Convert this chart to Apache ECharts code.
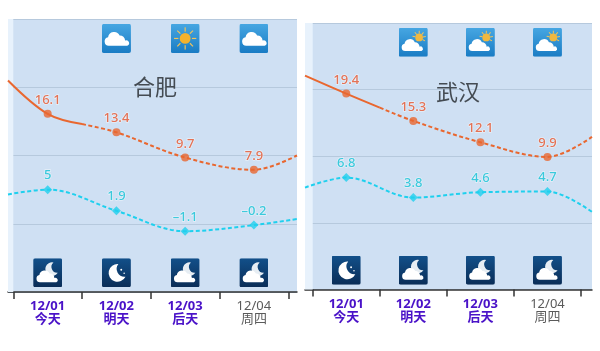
<!DOCTYPE html>
<html><head><meta charset="utf-8">
<style>html,body{margin:0;padding:0;background:#fff}#c{width:600px;height:351px}</style>
<script src="https://cdn.jsdelivr.net/npm/echarts@6/dist/echarts.min.js"></script>
</head><body><div id="c"></div>
<script>
const dates = ['12/01','12/02','12/03','12/04'];
const days = ['今天','明天','后天','周四'];
const dayPos = [0.5,1.5,2.5,3.5];
const boundaryPos = [0,1,2,3,4];

const hefeiHigh = [16.1,13.4,9.7,7.9];
const hefeiLow = [5,1.9,-1.1,-0.2];
const hefeiHighEnds = [21.0,10.0];
const hefeiLowEnds = [4.3,0.7];
const hefeiHighSolidEnd = 14.6;
const hefeiDayIcons = [null,'cloud','sun','cloud'];
const hefeiNightIcons = ['nightcloud','moon','nightcloud','nightcloud'];

const wuhanHigh = [19.4,15.3,12.1,9.9];
const wuhanLow = [6.8,3.8,4.6,4.7];
const wuhanHighEnds = [22.1,12.9];
const wuhanLowEnds = [5.3,1.65];
const wuhanHighSolidEnd = 17.3;
const wuhanDayIcons = [null,'partly','partly','partly'];
const wuhanNightIcons = ['moon','nightcloud','nightcloud','nightcloud'];

const CLOUD = 'M8 22a4 4 0 0 1-.6-7.9 5.6 5.6 0 0 1 10.6-1.6 4.8 4.8 0 0 1 5 4.6A2.6 2.6 0 0 1 25 22z';
function svg(kind){
  const night = kind==='moon'||kind==='nightcloud';
  const grad = night?['#12508a','#0a2d57']:['#46a6e2','#1a7cc4'];
  let b='';
  if(kind==='cloud') b=`<g transform="translate(-2 -2.2) scale(1.13)"><path fill="#fff" d="${CLOUD}"/></g>`;
  if(kind==='sun'){
    let rays='';
    for(let i=0;i<8;i++){rays+=`<rect x="14.4" y="3.5" width="1.2" height="4.5" fill="#f2c35a" transform="rotate(${i*45} 15 15)"/>`;}
    b=rays+'<circle cx="15" cy="15" r="5.6" fill="#f5b22c"/>';
  }
  if(kind==='partly'){
    let rays='';
    for(let i=-2;i<4;i++){rays+=`<rect x="20.6" y="3" width="1" height="3" fill="#f2c35a" transform="rotate(${i*40} 21 10)"/>`;}
    b=rays+'<circle cx="21" cy="10" r="4" fill="#f0b840"/><path fill="#fff" d="M6.5 24a3.8 3.8 0 0 1-.6-7.5 5.6 5.6 0 0 1 10.6-1.6 4.8 4.8 0 0 1 5 4.6A2.4 2.4 0 0 1 23.5 24z"/>';
  }
  if(kind==='moon'){
    b='<path fill="#fff" d="M17 6a9.2 9.2 0 1 0 7.4 13.2A8.2 8.2 0 0 1 17 6z"/><circle cx="20" cy="12" r="1" fill="#fff"/><circle cx="23" cy="15.5" r="0.8" fill="#fff"/>';
  }
  if(kind==='nightcloud'){
    b='<path fill="#e6edf3" d="M21 4.5a7 7 0 1 0 4.5 10.5A6 6 0 0 1 21 4.5z"/><path fill="#fff" d="M7 25a3.8 3.8 0 0 1-.6-7.5 5.6 5.6 0 0 1 10.6-1.6 4.8 4.8 0 0 1 5 4.6A2.4 2.4 0 0 1 24 25z"/>';
  }
  const s=`<svg xmlns="http://www.w3.org/2000/svg" width="58" height="58" viewBox="0 0 30 30"><defs><linearGradient id="g" x1="0" y1="0" x2="0" y2="1"><stop offset="0" stop-color="${grad[0]}"/><stop offset="1" stop-color="${grad[1]}"/></linearGradient></defs><rect width="30" height="30" rx="2" fill="url(#g)"/>${b}</svg>`;
  return 'image://data:image/svg+xml;charset=utf-8,'+encodeURIComponent(s);
}

const font = '"Noto Sans","Noto Sans CJK SC",sans-serif';
const grids=[], xAxes=[], yAxes=[], series=[], titles=[];

function panel(i,p){
  grids.push({left:p.left,width:p.width,top:p.top,height:p.height,show:true,backgroundColor:'#cfe0f3',borderWidth:0});
  xAxes.push({type:'value',gridIndex:i,min:p.xMin,max:p.xMax,
    axisLine:{onZero:false,lineStyle:{color:'#333',width:1.5}},
    axisTick:{length:7,customValues:boundaryPos,lineStyle:{color:'#333',width:1.5}},
    splitLine:{show:false},
    axisLabel:{customValues:dayPos,margin:8,interval:0,
      formatter:v=>{const k=dayPos.indexOf(v);const s=k<3?'a':'b';return `{${s}|${dates[k]}}\n{${s}|${days[k]}}`;},
      rich:{
        a:{fontFamily:font,fontSize:13,fontWeight:'bold',color:'#4a12c8',lineHeight:13},
        b:{fontFamily:font,fontSize:13,color:'#5a5a5a',lineHeight:13}}}});
  yAxes.push({type:'value',gridIndex:i,min:-10,max:30,interval:10,
    axisLine:{show:false},axisTick:{show:false},axisLabel:{show:false},
    splitLine:{lineStyle:{color:'#b6c9dd',width:1}}});
  const ax={xAxisIndex:i,yAxisIndex:i,animation:false,silent:true};
  const pair=(vals)=>vals.map((v,k)=>[dayPos[k],v]);
  const lab=(c)=>({show:true,position:'top',distance:3,fontFamily:font,fontSize:13,fontWeight:500,color:c,
      textBorderColor:'rgba(255,255,255,0.6)',textBorderWidth:1.5,
      formatter:o=>String(o.value[1]).replace('-','–')});
  const hc='#e9672f', lc='#1fd0ee';
  series.push({...ax,type:'line',data:[],markArea:{silent:true,itemStyle:{color:'#e8f2fc'},data:[[{xAxis:p.xMin},{xAxis:0}]]}});
  series.push({...ax,type:'line',smooth:0.35,showSymbol:false,symbol:'none',lineStyle:{color:hc,width:2},
    data:[[p.xMin,p.highEnds[0]],[dayPos[0],p.high[0]],[1,p.solidEnd]]});
  series.push({...ax,type:'line',smooth:0.35,showSymbol:false,symbol:'none',lineStyle:{color:hc,width:2,type:[4,2.5]},
    data:[[1,p.solidEnd],...pair(p.high).slice(1),[p.xMax,p.highEnds[1]]]});
  series.push({...ax,type:'scatter',symbol:'circle',symbolSize:8,itemStyle:{color:hc},label:lab('#e4532c'),data:pair(p.high)});
  series.push({...ax,type:'line',smooth:0.35,showSymbol:false,symbol:'none',lineStyle:{color:lc,width:2,type:[4,2.5]},
    data:[[p.xMin,p.lowEnds[0]],...pair(p.low),[p.xMax,p.lowEnds[1]]]});
  series.push({...ax,type:'scatter',symbol:'diamond',symbolSize:9,itemStyle:{color:lc},label:lab('#0fbfd4'),data:pair(p.low)});
  const icons=(arr,y)=>arr.map((k,n)=>k?{value:[dayPos[n],y],symbol:svg(k)}:null).filter(Boolean);
  series.push({...ax,type:'scatter',symbolSize:29,itemStyle:{opacity:1},data:[...icons(p.dayIcons,p.iconHi),...icons(p.nightIcons,p.iconLo)]});
  titles.push({text:p.name,left:p.nameX,top:p.nameY,textAlign:'center',textStyle:{fontFamily:'"Noto Sans CJK SC",sans-serif',fontSize:22,fontWeight:'normal',color:'#444b52'}});
}

panel(0,{name:'合肥',nameX:150,nameY:71,left:8,width:289,top:19,height:273,xMin:-0.077,xMax:4.127,
  high:hefeiHigh,low:hefeiLow,highEnds:hefeiHighEnds,lowEnds:hefeiLowEnds,solidEnd:hefeiHighSolidEnd,
  dayIcons:hefeiDayIcons,nightIcons:hefeiNightIcons,iconHi:27.15,iconLo:-7.17});
panel(1,{name:'武汉',nameX:453,nameY:76,left:305,width:287,top:23,height:266.5,xMin:-0.115,xMax:4.164,
  high:wuhanHigh,low:wuhanLow,highEnds:wuhanHighEnds,lowEnds:wuhanLowEnds,solidEnd:wuhanHighSolidEnd,
  dayIcons:wuhanDayIcons,nightIcons:wuhanNightIcons,iconHi:27.1,iconLo:-7.1});

const chart=echarts.init(document.getElementById('c'),null,{renderer:'canvas'});
chart.setOption({animation:false,backgroundColor:'#fff',title:titles,grid:grids,xAxis:xAxes,yAxis:yAxes,series});
</script></body></html>
